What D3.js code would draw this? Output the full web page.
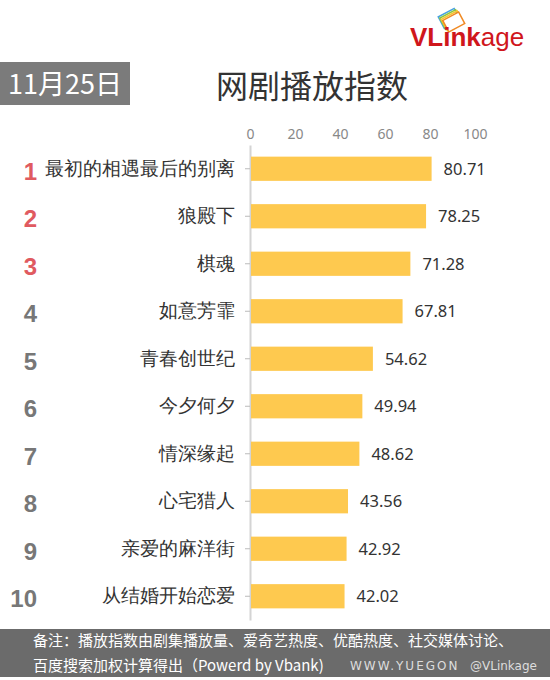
<!DOCTYPE html>
<html>
<head>
<meta charset="utf-8">
<script src="https://cdn.jsdelivr.net/npm/d3@7"></script>
<style>
  body { margin: 0; background: #fff; }
  svg { display: block; font-family: "Noto Sans CJK SC", "Noto Sans", sans-serif; }
</style>
</head>
<body>
<div id="chart"></div>
<script>
const dramas = ["最初的相遇最后的别离", "狼殿下", "棋魂", "如意芳霏", "青春创世纪",
  "今夕何夕", "情深缘起", "心宅猎人", "亲爱的麻洋街", "从结婚开始恋爱"];
const scores = [80.71, 78.25, 71.28, 67.81, 54.62, 49.94, 48.62, 43.56, 42.92, 42.02];
const ranks = ["1", "2", "3", "4", "5", "6", "7", "8", "9", "10"];
const xTicks = [0, 20, 40, 60, 80, 100];

const width = 550, height = 680;
const svg = d3.select("#chart").append("svg")
  .attr("width", width).attr("height", height);

const x = d3.scaleLinear().domain([0, 100]).range([250, 475]);
const y = d3.scaleBand().domain(dramas).range([145, 620]).paddingInner(0.49).paddingOuter(0.245);

// logo
const logo = svg.append("g");
const cardColors = ["#4aa3df", "#8cc63f", "#f7c531", "#f08a24"];
cardColors.forEach((c, i) => {
  logo.append("rect")
    .attr("x", 440 + i * 1.5).attr("y", 12 + i * 1.2)
    .attr("width", 18).attr("height", 13)
    .attr("transform", `rotate(-28, ${449 + i * 1.5}, ${18 + i * 1.2})`)
    .attr("fill", i === 3 ? "#fff" : "none")
    .attr("stroke", c).attr("stroke-width", 1.5);
});
const logoText = logo.append("text")
  .attr("x", 410).attr("y", 46)
  .style("font-family", "Liberation Sans, Arial, sans-serif")
  .style("font-size", "26px").attr("fill", "#d0161c");
logoText.append("tspan").style("font-weight", "bold").text("VLink");
logoText.append("tspan").text("age");

// date box
svg.append("rect").attr("x", 0).attr("y", 62).attr("width", 130).attr("height", 43).attr("fill", "#7b7b7b");
svg.append("text").attr("x", 65).attr("y", 94).attr("text-anchor", "middle")
  .attr("fill", "#fff").style("font-size", "27px").text("11月25日");

// title
svg.append("text").attr("x", 312).attr("y", 98).attr("text-anchor", "middle")
  .attr("fill", "#333").style("font-size", "32px").text("网剧播放指数");

// top axis
const xAxisG = svg.append("g").attr("transform", "translate(0,139)")
  .call(d3.axisTop(x).tickValues(xTicks).tickSize(0).tickPadding(0));
xAxisG.select(".domain").remove();
xAxisG.selectAll("text").attr("fill", "#888").style("font-size", "14px")
  .style("font-family", "Noto Sans, sans-serif");

// left axis
const yAxisG = svg.append("g").attr("transform", "translate(250,0)")
  .call(d3.axisLeft(y).tickSize(5).tickSizeOuter(0).tickPadding(10));
yAxisG.select(".domain").attr("stroke", "#d4d4d4").attr("stroke-width", 2);
yAxisG.selectAll(".tick line").attr("stroke", "#bbb");
yAxisG.selectAll("text").attr("fill", "#333").style("font-size", "18.5px");

// bars
svg.append("g").selectAll("rect")
  .data(dramas)
  .join("rect")
  .attr("x", x(0) + 1)
  .attr("y", d => y(d))
  .attr("width", (d, i) => x(scores[i]) - x(0) - 1)
  .attr("height", y.bandwidth())
  .attr("fill", "#fec94f");

// value labels
svg.append("g").selectAll("text")
  .data(dramas)
  .join("text")
  .attr("x", (d, i) => x(scores[i]) + 12)
  .attr("y", d => y(d) + y.bandwidth() / 2)
  .attr("dy", "0.36em")
  .attr("fill", "#333")
  .style("font-size", "16.5px")
  .style("font-family", "Noto Sans, sans-serif")
  .text((d, i) => scores[i].toFixed(2));

// rank numbers
svg.append("g").selectAll("text")
  .data(dramas)
  .join("text")
  .attr("x", 37)
  .attr("y", d => y(d) + y.bandwidth() / 2 + 11)
  .attr("text-anchor", "end")
  .attr("fill", (d, i) => i < 3 ? "#e05a60" : "#777")
  .style("font-size", "24px")
  .style("font-weight", "bold")
  .style("font-family", "Liberation Sans, Arial, sans-serif")
  .text((d, i) => ranks[i]);

// footer
svg.append("rect").attr("x", 0).attr("y", 629).attr("width", width).attr("height", 48).attr("fill", "#6b6b6b");
svg.append("text").attr("x", 33).attr("y", 646).attr("fill", "#fff").style("font-size", "15px")
  .text("备注：播放指数由剧集播放量、爱奇艺热度、优酷热度、社交媒体讨论、");
svg.append("text").attr("x", 33).attr("y", 671).attr("fill", "#fff").style("font-size", "15px")
  .text("百度搜索加权计算得出（Powerd by Vbank)");
svg.append("text").attr("x", 350).attr("y", 670).attr("fill", "#ddd").style("font-size", "12px")
  .style("letter-spacing", "2px").style("font-family", "DejaVu Sans, sans-serif")
  .text("WWW.YUEGON");
svg.append("text").attr("x", 470).attr("y", 670).attr("fill", "#ddd").style("font-size", "12px")
  .style("font-family", "DejaVu Sans, sans-serif")
  .text("@VLinkage");
</script>
</body>
</html>
